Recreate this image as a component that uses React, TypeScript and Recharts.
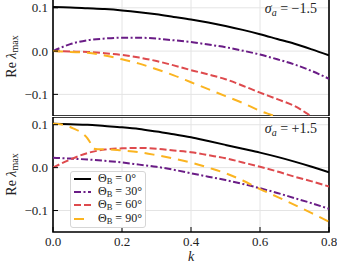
import React from 'react';
import { LineChart, Line, XAxis, YAxis, CartesianGrid, ReferenceArea } from 'recharts';

const FONT = "'Liberation Serif', 'DejaVu Serif', serif";

const kTicks = [0, 0.2, 0.4, 0.6, 0.8];
const yTicks = [-0.1, 0, 0.1];
const kGrid = [0, 0.05, 0.1, 0.15, 0.2, 0.25, 0.3, 0.35, 0.4, 0.45, 0.5, 0.55, 0.6, 0.65, 0.7, 0.75, 0.8];

// sigma_a = -1.5 (top panel)
const topTheta0 = [0.102, 0.101, 0.099, 0.097, 0.094, 0.09, 0.085, 0.079, 0.073, 0.066, 0.058, 0.049, 0.039, 0.028, 0.017, 0.004, -0.01];
const topTheta30 = [0, 0.016, 0.025, 0.029, 0.031, 0.031, 0.029, 0.025, 0.021, 0.015, 0.009, 0.001, -0.008, -0.019, -0.031, -0.046, -0.064];
const topTheta60 = [0, -0.001, -0.002, -0.005, -0.009, -0.015, -0.023, -0.033, -0.044, -0.054, -0.065, -0.08, -0.096, -0.111, -0.127, -0.151, -0.175];
const topTheta90 = [0, -0.002, -0.004, -0.01, -0.019, -0.029, -0.042, -0.056, -0.072, -0.088, -0.104, -0.12, -0.138, -0.153, -0.174, -0.197, -0.22];

// sigma_a = +1.5 (bottom panel)
const botTheta0 = [0.102, 0.101, 0.1, 0.097, 0.094, 0.09, 0.084, 0.078, 0.071, 0.062, 0.053, 0.044, 0.035, 0.025, 0.014, 0.002, -0.011];
const botTheta30 = [0.023, 0.021, 0.019, 0.016, 0.012, 0.007, 0.002, -0.005, -0.013, -0.021, -0.029, -0.038, -0.048, -0.059, -0.071, -0.083, -0.096];
const botTheta60 = [0, 0.019, 0.034, 0.042, 0.045, 0.046, 0.044, 0.04, 0.036, 0.029, 0.022, 0.012, 0.002, -0.009, -0.021, -0.032, -0.044];
const botTheta90K = [0, 0.03, 0.06, 0.085, 0.1, 0.11, 0.115, 0.13, 0.15, 0.2, 0.25, 0.3, 0.35, 0.4, 0.45, 0.5, 0.55, 0.6, 0.65, 0.7, 0.75, 0.8];
const botTheta90 = [0.102, 0.1, 0.091, 0.08, 0.068, 0.055, 0.045, 0.043, 0.043, 0.04, 0.036, 0.029, 0.021, 0.012, 0.0, -0.013, -0.03, -0.05, -0.068, -0.087, -0.106, -0.126];

const thetaLabels = ['0°', '30°', '60°', '90°'];
const colors = ['#000000', '#6a1c86', '#de4a4d', '#fbb420'];
const dashes = ['', '7 2.5 2 2.5', '7 3', '10 7'];

const pts = (ks: number[], vs: number[]) => ks.map((k, i) => ({ k, v: vs[i] }));

const topSeries = [
  pts(kGrid, topTheta0),
  pts(kGrid, topTheta30),
  pts(kGrid, topTheta60),
  pts(kGrid, topTheta90),
];
const botSeries = [
  pts(kGrid, botTheta0),
  pts(kGrid, botTheta30),
  pts(kGrid, botTheta60),
  pts(botTheta90K, botTheta90),
];

const fmtY = (v: number) => (Math.abs(v) < 1e-9 ? '0.0' : v < 0 ? '\u2212' + Math.abs(v).toFixed(1) : v.toFixed(1));

const makeXTick = (showLabel: boolean) => (props: any) => {
  const { x, y, payload } = props;
  return (
    <g>
      <line x1={x} x2={x} y1={y} y2={y - 5} stroke="#000" strokeWidth={1} />
      {showLabel && (
        <text x={x} y={y + 13.7} textAnchor="middle" fontSize={13} fontFamily={FONT} fill="#222">
          {Number(payload.value).toFixed(1)}
        </text>
      )}
    </g>
  );
};

const YTick = (props: any) => {
  const { x, y, payload } = props;
  return (
    <g>
      <line x1={x} x2={x + 5} y1={y} y2={y} stroke="#000" strokeWidth={1} />
      <text x={x - 5} y={y + 4.5} textAnchor="end" fontSize={13} fontFamily={FONT} fill="#222">
        {fmtY(payload.value)}
      </text>
    </g>
  );
};

const yLabelContent = (props: any) => {
  const vb = props.viewBox || {};
  const cy = vb.y + vb.height / 2;
  const cx = 13;
  return (
    <text
      x={cx}
      y={cy}
      transform={`rotate(-90 ${cx} ${cy})`}
      textAnchor="middle"
      dominantBaseline="middle"
      fontSize={14}
      fontFamily={FONT}
      fill="#222"
    >
      Re{' '}
      <tspan fontStyle="italic">λ</tspan>
      <tspan fontSize={10} dy={3}>max</tspan>
    </text>
  );
};

const sigmaContent = (sign: string) => (props: any) => {
  const vb = props.viewBox || {};
  return (
    <text x={vb.x + vb.width - 12} y={vb.y + 16} textAnchor="end" fontSize={14} fontFamily={FONT} fill="#222">
      <tspan fontStyle="italic">σ</tspan>
      <tspan fontStyle="italic" fontSize={10} dy={2.5}>a</tspan>
      <tspan dy={-2.5}>{` = ${sign}1.5`}</tspan>
    </text>
  );
};

const kLabelContent = (props: any) => {
  const vb = props.viewBox || {};
  return (
    <text x={vb.x + vb.width / 2} y={vb.y + 29} textAnchor="middle" fontSize={14} fontFamily={FONT} fontStyle="italic" fill="#222">
      k
    </text>
  );
};

const LegendBox = () => (
  <div
    style={{
      position: 'absolute',
      left: 70,
      top: 171,
      width: 76,
      height: 57,
      boxSizing: 'border-box',
      background: 'rgba(255,255,255,0.8)',
      border: '1px solid #d6d6d6',
      borderRadius: 3,
      fontFamily: FONT,
      fontSize: 12,
      lineHeight: '13px',
      color: '#222',
    }}
  >
    {thetaLabels.map((t, i) => (
      <div key={t} style={{ display: 'flex', alignItems: 'center', height: 13.4, whiteSpace: 'nowrap' }}>
        <svg width={25} height={6} style={{ marginLeft: 2, flex: 'none' }}>
          <line x1={1} x2={18} y1={3} y2={3} stroke={colors[i]} strokeWidth={2} strokeDasharray={dashes[i] || undefined} />
        </svg>
        <span>
          Θ<span style={{ fontSize: 8.5, position: 'relative', top: 2 }}>B</span> = {t}
        </span>
      </div>
    ))}
  </div>
);

const Panel = ({ series, domain, height, showX, sign }: any) => (
  <LineChart width={337} height={height} margin={{ top: 0, right: 8, bottom: 0, left: 0 }}>
    <CartesianGrid stroke="#e4e4e4" strokeWidth={1} />
    <XAxis
      dataKey="k"
      type="number"
      domain={[0, 0.8]}
      ticks={kTicks}
      interval={0}
      allowDataOverflow
      height={showX ? 34 : 0}
      tickSize={0}
      tickMargin={0}
      tickLine={false}
      axisLine={false}
      tick={makeXTick(showX)}
      label={showX ? { content: kLabelContent } : undefined}
    />
    <YAxis
      type="number"
      domain={domain}
      ticks={yTicks}
      interval={0}
      allowDataOverflow
      width={53}
      tickSize={0}
      tickMargin={0}
      tickLine={false}
      axisLine={false}
      tick={YTick}
      label={{ content: yLabelContent }}
    />
    {series.map((d: any[], i: number) => (
      <Line
        key={i}
        data={d}
        dataKey="v"
        type="monotone"
        stroke={colors[i]}
        strokeWidth={2}
        strokeDasharray={dashes[i] || undefined}
        dot={false}
        activeDot={false}
        isAnimationActive={false}
      />
    ))}
    <ReferenceArea
      x1={0}
      x2={0.8}
      y1={domain[0]}
      y2={domain[1]}
      fill="none"
      fillOpacity={0}
      stroke="#000"
      strokeWidth={1.6}
      ifOverflow="visible"
      label={{ content: sigmaContent(sign) }}
    />
  </LineChart>
);

export default function App() {
  return (
    <div style={{ position: 'absolute', left: 0, top: 0, width: 337, height: 266, background: '#fff', overflow: 'hidden' }}>
      <div style={{ position: 'absolute', left: 0, top: -3 }}>
        <Panel series={topSeries} domain={[-0.15, 0.125]} height={119} showX={false} sign={'\u2212'} />
      </div>
      <div style={{ position: 'absolute', left: 0, top: 117 }}>
        <Panel series={botSeries} domain={[-0.15, 0.118]} height={149} showX={true} sign={'+'} />
      </div>
      <LegendBox />
    </div>
  );
}
